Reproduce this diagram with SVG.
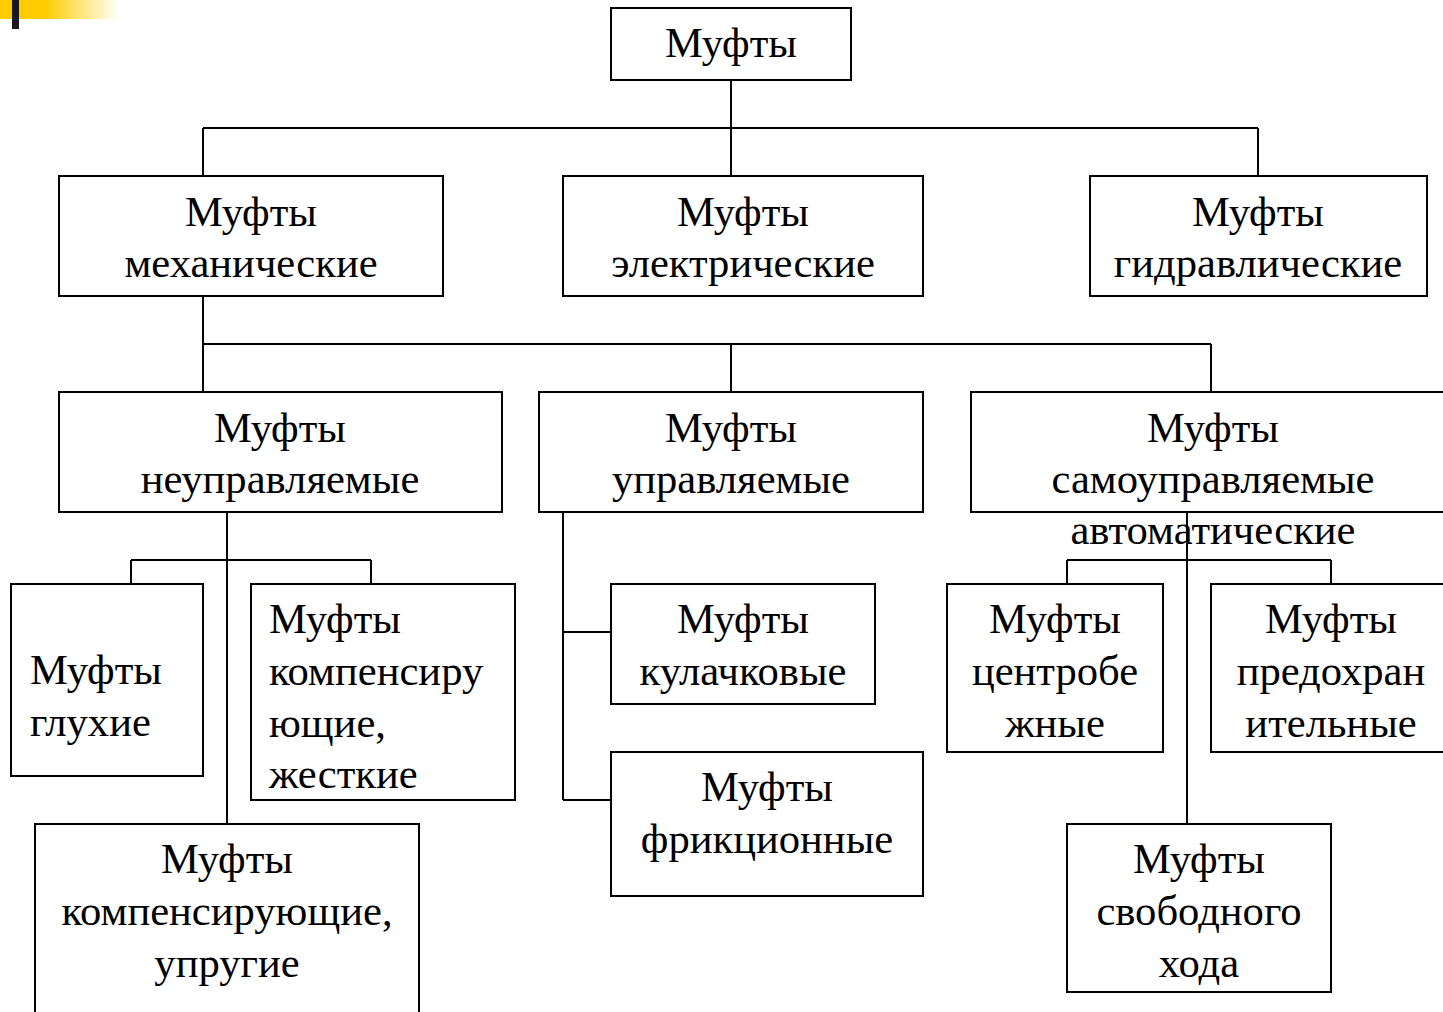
<svg xmlns="http://www.w3.org/2000/svg" width="1443" height="1012" viewBox="0 0 1443 1012">
<defs>
<linearGradient id="yg" x1="0" y1="0" x2="1" y2="0">
<stop offset="0" stop-color="#FFCC00"/>
<stop offset="0.37" stop-color="#FFCC00"/>
<stop offset="1" stop-color="#FFFFFF"/>
</linearGradient>
</defs>
<style>
.b{fill:#fff;stroke:#000;stroke-width:2}
.c{fill:none;stroke:#000;stroke-width:2}
text{font-family:"Liberation Serif","Times New Roman",serif;font-size:42.6px;fill:#000}
.m{text-anchor:middle}
</style>
<rect x="0" y="0" width="120" height="19" fill="url(#yg)"/>
<rect x="12" y="0" width="7" height="29" fill="#1a1a1a"/>
<g id="connectors">
<path class="c" d="M731 80V176M203 128H1258M203 128V176M1258 128V176"/>
<path class="c" d="M203 296V392M203 344H1211M731 344V392M1211 344V392"/>
<path class="c" d="M227 512V824M131 560H371M131 560V584M371 560V584"/>
<path class="c" d="M563 512V800M563 632H611M563 800H611"/>
<path class="c" d="M1067 560H1331M1067 560V584M1331 560V584"/>
</g>
<g id="n-root"><rect class="b" x="611" y="8" width="240" height="72"/><text class="m" x="731" y="57">Муфты</text></g>
<g id="n-mech"><rect class="b" x="59" y="176" width="384" height="120"/><text class="m" x="251" y="226">Муфты</text><text class="m" x="251" y="277">механические</text></g>
<g id="n-elec"><rect class="b" x="563" y="176" width="360" height="120"/><text class="m" x="743" y="226">Муфты</text><text class="m" x="743" y="277">электрические</text></g>
<g id="n-hydr"><rect class="b" x="1090" y="176" width="337" height="120"/><text class="m" x="1258" y="226">Муфты</text><text class="m" x="1258" y="277">гидравлические</text></g>
<g id="n-unctrl"><rect class="b" x="59" y="392" width="443" height="120"/><text class="m" x="280" y="442">Муфты</text><text class="m" x="280" y="493">неуправляемые</text></g>
<g id="n-ctrl"><rect class="b" x="539" y="392" width="384" height="120"/><text class="m" x="731" y="442">Муфты</text><text class="m" x="731" y="493">управляемые</text></g>
<g id="n-self"><rect class="b" x="971" y="392" width="480" height="120"/><text class="m" x="1213" y="442">Муфты</text><text class="m" x="1213" y="493">самоуправляемые</text><text class="m" x="1213" y="544">автоматические</text></g>
<path class="c" d="M1187 512V824"/>
<g id="n-gluh"><rect class="b" x="11" y="584" width="192" height="192"/><text x="30" y="684">Муфты</text><text x="30" y="736">глухие</text></g>
<g id="n-komp-zh"><rect class="b" x="251" y="584" width="264" height="216"/><text x="269" y="633">Муфты</text><text x="269" y="685">компенсиру</text><text x="269" y="737">ющие,</text><text x="269" y="788">жесткие</text></g>
<g id="n-komp-up"><rect class="b" x="35" y="824" width="384" height="200"/><text class="m" x="227" y="873">Муфты</text><text class="m" x="227" y="925">компенсирующие,</text><text class="m" x="227" y="977">упругие</text></g>
<g id="n-kul"><rect class="b" x="611" y="584" width="264" height="120"/><text class="m" x="743" y="633">Муфты</text><text class="m" x="743" y="685">кулачковые</text></g>
<g id="n-frik"><rect class="b" x="611" y="752" width="312" height="144"/><text class="m" x="767" y="801">Муфты</text><text class="m" x="767" y="853">фрикционные</text></g>
<g id="n-centr"><rect class="b" x="947" y="584" width="216" height="168"/><text class="m" x="1055" y="633">Муфты</text><text class="m" x="1055" y="685">центробе</text><text class="m" x="1055" y="737">жные</text></g>
<g id="n-predoh"><rect class="b" x="1211" y="584" width="240" height="168"/><text class="m" x="1331" y="633">Муфты</text><text class="m" x="1331" y="685">предохран</text><text class="m" x="1331" y="737">ительные</text></g>
<g id="n-svob"><rect class="b" x="1067" y="824" width="264" height="168"/><text class="m" x="1199" y="873">Муфты</text><text class="m" x="1199" y="925">свободного</text><text class="m" x="1199" y="977">хода</text></g>
</svg>
